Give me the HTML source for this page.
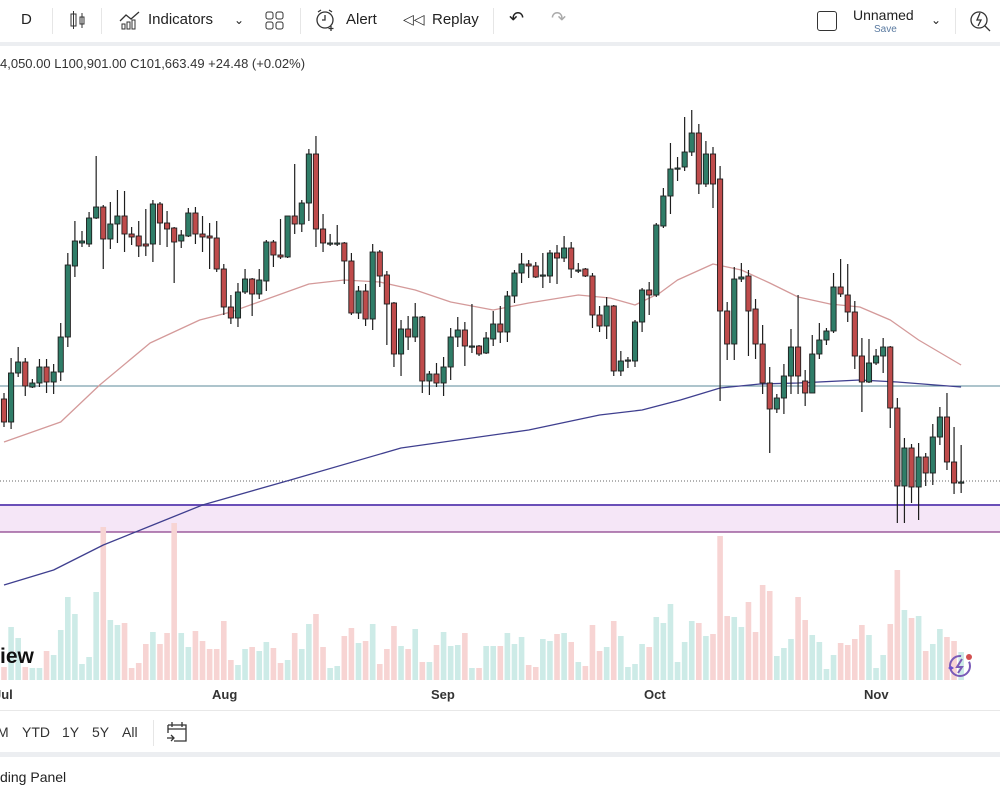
<!DOCTYPE html>
<html><head><meta charset="utf-8">
<style>
html,body{margin:0;padding:0;background:#fff;width:1000px;height:800px;overflow:hidden;font-family:"Liberation Sans",sans-serif;color:#131722}
.abs{position:absolute}
#top{position:absolute;left:0;top:0;width:1000px;height:42px;background:#fff;border-bottom:4px solid #eceef1}
.tb{position:absolute;top:11px;font-size:15px;color:#222}
.sep{position:absolute;width:1px;background:#e6e6e6}
#ohlc{position:absolute;left:0;top:56px;font-size:13px;color:#333}
.month{position:absolute;top:687px;font-size:13px;color:#333;font-weight:bold}
.rng{position:absolute;top:724px;font-size:14px;color:#333}
</style></head><body>
<div id="top">
  <div class="tb" style="left:21px">D</div>
  <div class="sep" style="left:52px;top:8px;height:26px"></div>
  <svg class="abs" style="left:68px;top:10px" width="20" height="20"><rect x="3" y="4" width="5" height="12" fill="none" stroke="#333"/><line x1="5.5" y1="1" x2="5.5" y2="19" stroke="#333"/><rect x="12" y="7" width="4" height="7" fill="none" stroke="#333"/><line x1="14" y1="3" x2="14" y2="18" stroke="#333"/></svg>
  <div class="sep" style="left:101px;top:8px;height:26px"></div>
  <svg class="abs" style="left:118px;top:9px" width="24" height="22"><path d="M2 12 L8 6 L13 10 L21 3" fill="none" stroke="#333" stroke-width="1.3"/><rect x="4" y="15" width="3" height="5" fill="none" stroke="#333"/><rect x="9" y="13" width="3" height="7" fill="none" stroke="#333"/><rect x="14" y="11" width="3" height="9" fill="none" stroke="#333"/></svg>
  <div class="tb" style="left:148px">Indicators</div>
  <div class="tb" style="left:234px;font-size:12px;top:13px">&#8964;</div>
  <svg class="abs" style="left:265px;top:11px" width="20" height="20"><rect x="1" y="1" width="7" height="7" rx="2" fill="none" stroke="#333"/><rect x="11" y="1" width="7" height="7" rx="2" fill="none" stroke="#333"/><rect x="1" y="11" width="7" height="7" rx="2" fill="none" stroke="#333"/><rect x="11" y="11" width="7" height="7" rx="2" fill="none" stroke="#333"/></svg>
  <div class="sep" style="left:300px;top:8px;height:26px"></div>
  <svg class="abs" style="left:314px;top:8px" width="24" height="24"><circle cx="11" cy="12" r="8" fill="none" stroke="#333" stroke-width="1.3"/><path d="M11 7 V12 H8 M4 4 L7 2 M18 4 L15 2 M17 18 v5 M14.5 20.5 h5" fill="none" stroke="#333" stroke-width="1.3"/></svg>
  <div class="tb" style="left:346px">Alert</div>
  <div class="tb" style="left:403px;font-size:14px">&#9665;&#9665;</div>
  <div class="tb" style="left:432px">Replay</div>
  <div class="sep" style="left:493px;top:8px;height:26px"></div>
  <div class="tb" style="left:509px;font-size:18px;top:8px">&#8630;</div>
  <div class="tb" style="left:551px;font-size:18px;top:8px;color:#aaa">&#8631;</div>
  <div class="abs" style="left:817px;top:11px;width:18px;height:18px;border:1.5px solid #333;border-radius:3px"></div>
  <div class="tb" style="left:853px;top:7px;font-size:14px">Unnamed</div>
  <div class="tb" style="left:874px;top:24px;font-size:10px;color:#5a7aa0">Save</div>
  <div class="tb" style="left:931px;font-size:12px;top:13px">&#8964;</div>
  <div class="sep" style="left:955px;top:8px;height:26px"></div>
  <svg class="abs" style="left:968px;top:8px" width="26" height="26"><circle cx="11" cy="12" r="8" fill="none" stroke="#333" stroke-width="1.3"/><path d="M12 5 L9 12 H13 L10 18 M17 18 L22 23" fill="none" stroke="#333" stroke-width="1.3"/></svg>
</div>
<div id="ohlc">4,050.00 L100,901.00 C101,663.49 +24.48 (+0.02%)</div>

<svg id="chart" class="abs" style="left:0;top:0" width="1000" height="800"></svg>

<div class="abs" style="left:0;top:645px;font-size:21px;font-weight:bold;color:#111">iew</div>
<svg class="abs" style="left:944px;top:652px" width="32" height="28"><circle cx="16" cy="14" r="10" fill="none" stroke="#7a5bb8" stroke-width="2" stroke-dasharray="48 10"/><path d="M18 7 L13 15 H18 L14 21" fill="none" stroke="#7a5bb8" stroke-width="2"/><path d="M4 16 l3 -2 l3 2 l-3 2z" fill="#6a4fd0"/><circle cx="25" cy="5" r="3" fill="#d25050"/></svg>

<div class="abs" style="left:0;top:710px;width:1000px;height:1px;background:#e8e8e8"></div>
<div class="month" style="left:-6px">Jul</div>
<div class="month" style="left:212px">Aug</div>
<div class="month" style="left:431px">Sep</div>
<div class="month" style="left:644px">Oct</div>
<div class="month" style="left:864px">Nov</div>

<div class="rng" style="left:-3px">M</div>
<div class="rng" style="left:22px">YTD</div>
<div class="rng" style="left:62px">1Y</div>
<div class="rng" style="left:92px">5Y</div>
<div class="rng" style="left:122px">All</div>
<div class="sep" style="left:153px;top:720px;height:26px"></div>
<svg class="abs" style="left:166px;top:721px" width="24" height="24"><path d="M2 4 H20 V20 H8 M2 4 V12 M2 8 H20 M6 1 V6 M16 1 V6 M1 17 H8 M5 14 L8 17 L5 20" fill="none" stroke="#333" stroke-width="1.3"/></svg>
<div class="abs" style="left:0;top:752px;width:1000px;height:5px;background:#eceef1"></div>
<div class="abs" style="left:0;top:769px;font-size:14px;color:#222">ding Panel</div>

<script>
const opens=[109.9,107.6,112.5,113.6,111.1,111.5,113.1,111.6,112.6,116.1,123.2,125.5,125.4,128.0,129.1,125.9,127.4,128.2,126.4,126.2,125.4,125.4,129.4,127.5,127.0,125.7,126.2,128.5,126.4,126.2,126.0,122.9,119.1,118.0,120.6,121.9,120.4,121.7,125.6,124.3,124.1,128.2,127.4,129.5,134.4,126.9,125.5,125.5,125.5,123.7,118.5,120.7,117.9,124.6,122.3,119.5,114.4,116.9,116.1,118.1,111.7,112.4,111.5,113.1,116.1,116.8,115.2,115.2,114.5,115.9,117.4,116.6,120.2,122.5,123.4,123.2,122.3,122.2,124.5,124.0,125.0,122.8,122.9,122.2,118.3,117.2,119.2,112.7,113.8,113.7,117.6,120.8,120.3,127.2,130.2,133.0,133.1,134.6,136.5,131.4,134.4,131.9,118.7,115.4,121.9,122.2,118.9,115.4,111.5,108.9,110.0,112.2,115.1,111.7,110.5,114.4,115.8,116.7,121.1,120.3,118.6,114.2,111.6,113.5,114.2,115.1,109.0,101.2,105.0,101.1,104.1,102.5,106.1,108.1,103.6,101.6];
const highs=[110.5,114.0,115.1,114.0,111.9,113.9,113.9,113.4,117.5,124.5,127.7,126.7,128.6,134.2,129.3,129.6,130.8,130.7,127.1,127.7,128.9,129.8,129.6,128.7,127.1,126.8,129.0,129.1,128.2,127.5,127.7,123.4,120.3,121.5,122.9,122.0,122.9,125.8,125.8,127.9,128.2,133.4,129.8,134.9,136.2,128.4,126.4,127.3,125.6,124.5,121.2,121.4,125.4,124.8,122.7,119.6,117.8,118.2,119.5,118.2,112.7,113.5,114.1,117.0,118.1,117.6,119.4,115.3,116.6,118.7,119.2,120.7,122.8,124.5,123.8,123.6,124.5,124.8,125.3,126.2,125.6,123.5,123.0,122.5,119.2,120.1,119.3,114.7,114.1,117.8,121.0,121.6,127.5,131.0,135.5,134.1,138.1,138.8,137.4,135.7,135.1,133.2,119.6,123.1,123.5,122.8,119.9,117.3,113.1,110.4,113.4,116.9,120.3,112.8,116.3,117.5,117.0,122.5,123.9,123.4,119.7,116.0,115.9,114.9,116.0,115.2,110.0,106.0,105.4,105.5,104.5,107.4,109.1,110.5,107.1,105.3];
const lows=[107.1,106.9,112.1,110.2,111.0,111.1,110.5,110.4,111.7,115.1,122.1,125.1,125.1,127.9,122.9,124.9,125.5,124.6,125.3,124.1,124.2,123.6,125.3,125.1,121.5,125.0,126.1,125.4,124.6,122.9,122.6,118.3,117.4,117.1,120.4,118.2,119.9,120.7,123.1,123.9,124.0,126.4,126.6,127.7,125.1,124.6,125.2,125.2,121.4,118.3,117.9,117.2,116.8,121.1,115.3,113.1,112.2,114.8,115.6,110.5,110.3,111.1,110.2,111.8,115.1,113.2,114.5,114.2,114.4,115.2,115.5,115.6,119.5,121.5,122.0,122.0,121.0,121.5,121.4,123.6,122.0,122.5,122.1,117.0,116.6,115.9,112.2,112.2,113.0,113.1,116.6,118.3,120.1,127.0,128.4,131.7,132.7,134.2,130.4,131.1,129.0,109.7,113.8,113.8,121.6,114.2,113.9,110.4,104.5,108.5,108.4,110.4,110.4,109.2,110.5,113.9,115.3,116.5,120.1,117.6,112.9,108.6,111.5,113.3,112.5,107.0,97.5,97.5,99.5,97.8,101.2,101.3,105.3,102.8,100.4,100.5];
const closes=[107.6,112.5,113.6,111.2,111.5,113.1,111.6,112.6,116.1,123.3,125.7,125.7,128.0,129.1,125.9,127.4,128.2,126.4,126.1,125.2,125.2,129.4,127.5,126.9,125.6,126.3,128.5,126.4,126.1,126.0,122.9,119.1,118.0,120.6,121.9,120.4,121.8,125.6,124.3,124.1,128.2,127.4,129.5,134.4,126.9,125.5,125.5,125.5,123.7,118.5,120.7,117.9,124.6,122.2,119.4,114.4,116.9,116.1,118.1,111.7,112.4,111.5,113.1,116.1,116.8,115.2,115.2,114.4,116.0,117.4,116.6,120.2,122.5,123.4,123.2,122.1,122.3,124.5,124.0,125.0,122.9,122.8,122.2,118.3,117.2,119.2,112.7,113.7,113.8,117.6,120.8,120.3,127.3,130.2,132.9,133.0,134.6,136.5,131.4,134.4,131.4,118.7,115.4,121.9,122.1,118.7,115.4,111.5,108.9,110.0,112.2,115.1,112.2,110.5,114.4,115.8,116.7,121.1,120.4,118.6,114.2,111.6,113.5,114.2,115.1,109.0,101.2,105.0,101.1,104.1,102.5,106.1,108.1,103.6,101.5,101.6];
const volumes=[13,53,42,13,12,12,29,25,50,83,66,16,23,88,153,60,55,57,12,17,36,48,36,47,157,47,33,49,39,31,31,59,20,15,31,33,29,38,32,17,20,47,31,56,66,33,12,14,44,52,37,39,56,16,31,54,34,31,51,18,18,35,48,34,35,47,12,12,34,34,34,47,36,43,15,13,41,39,46,47,38,18,14,55,29,33,59,44,13,16,36,33,63,57,76,18,38,59,57,44,46,144,64,63,53,78,48,95,89,24,32,41,83,60,45,38,11,25,37,35,41,55,45,12,25,56,110,70,62,64,29,36,51,43,39,28];
const ma50Idx=[0,8,13.5,20.6,27.6,32,37.5,43,48,53,58,63,69,74,81,85.5,89,92.5,95,100,104,108,112,116.5,120.7,125,129,135];
const ma50Val=[105.6,107.6,111.3,115.5,117.8,118.6,120.0,121.4,121.8,121.6,120.8,119.6,118.8,119.5,120.3,120.0,119.3,120.5,121.8,123.4,122.8,121.5,120.1,119.4,119.1,117.8,115.8,113.3];
const ma200Idx=[0,7,14,21,28,40.4,56,74,84,90,95.4,101,106.6,112,120.7,126,135];
const ma200Val=[91.3,92.8,95.3,97.3,99.3,101.8,105.0,106.8,108.3,108.8,109.8,111.0,111.4,111.5,111.8,111.6,111.1];
const levelLine=111.2, lastPrice=101.7, zoneTop=99.3, zoneBottom=96.6;

const NS='http://www.w3.org/2000/svg';
const svg=document.getElementById('chart');
const xOf=i=>4+i*7.09;
const yOf=p=>(149.8-p)*10;
const vOf=v=>680-v;
function mk(tag,attrs,parent){const e=document.createElementNS(NS,tag);for(const k in attrs)e.setAttribute(k,attrs[k]);(parent||svg).appendChild(e);return e;}

// zone
const zone=mk('rect',{x:0,y:yOf(zoneTop),width:1000,height:yOf(zoneBottom)-yOf(zoneTop),fill:'#f5e6f7'});


const zb=mk('line',{x1:0,x2:1000,y1:yOf(zoneBottom),y2:yOf(zoneBottom),stroke:'#8a3f8a','stroke-width':1.2});



// volume
const vg=mk('g',{});


volumes.forEach((v,i)=>{
  const up=closes[i]>=opens[i];
  const r=mk('rect',{x:xOf(i)-2.8,y:vOf(v),width:5.6,height:v,fill:up?'#cdebe7':'#f7d4d3'},vg);
  
  
});

const zt=mk('line',{x1:0,x2:1000,y1:yOf(zoneTop),y2:yOf(zoneTop),stroke:'#6a4fb8','stroke-width':2});


const lv=mk('line',{x1:0,x2:1000,y1:yOf(levelLine),y2:yOf(levelLine),stroke:'#5b8a9a','stroke-width':1});


const lp=mk('line',{x1:0,x2:1000,y1:yOf(lastPrice),y2:yOf(lastPrice),stroke:'#666','stroke-width':1,'stroke-dasharray':'1 2'});



function poly(idx,val,color,name,w){
  const pts=idx.map((t,k)=>xOf(t).toFixed(1)+','+yOf(val[k]).toFixed(1)).join(' ');
  const p=mk('polyline',{points:pts,fill:'none',stroke:color,'stroke-width':w,'stroke-linejoin':'round'});
  
  
}
poly(ma200Idx,ma200Val,'#3f3f8f','ma200-line',1.3);
poly(ma50Idx,ma50Val,'#d49a9a','ma50-line',1.3);

const cg=mk('g',{});


opens.forEach((o,i)=>{
  const c=closes[i],up=c>=o,x=xOf(i);
  const g=mk('g',{},cg);
  
  
  mk('line',{x1:x,x2:x,y1:yOf(highs[i]),y2:yOf(lows[i]),stroke:'#1e1e1e','stroke-width':1.2},g);
  const t=yOf(Math.max(o,c)),b=yOf(Math.min(o,c));
  mk('rect',{x:x-2.6,y:t,width:5.2,height:Math.max(b-t,1.2),fill:up?'#2f7d68':'#bf4b4b',stroke:'#1e1e1e','stroke-width':0.9},g);
});
</script>
</body></html>
